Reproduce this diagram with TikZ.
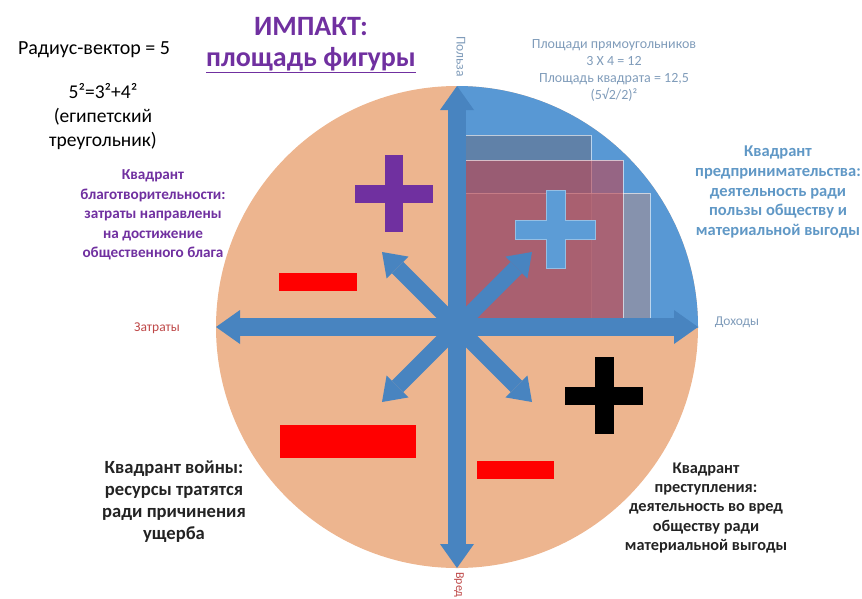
\documentclass[tikz,border=0pt]{standalone}
\usepackage{fontspec}
\setmainfont{Carlito}
\usepackage{tikz}
\usetikzlibrary{arrows.meta}
\definecolor{peach}{RGB}{237,181,143}
\definecolor{quadblue}{RGB}{88,152,212}
\definecolor{arrowblue}{RGB}{72,132,192}
\definecolor{plusblue}{RGB}{92,156,214}
\definecolor{violet}{RGB}{112,48,160}
\definecolor{minusred}{RGB}{255,0,0}
\definecolor{noteblue}{RGB}{128,156,186}
\definecolor{labelblue}{RGB}{96,152,198}
\definecolor{costred}{RGB}{190,72,72}
\definecolor{darktext}{RGB}{35,35,35}
\tikzstyle{axis} = [draw=arrowblue, line width=18pt,
    {Triangle[width=34pt,length=24pt,line width=0pt]}-{Triangle[width=34pt,length=24pt,line width=0pt]}]
\tikzstyle{diag} = [draw=arrowblue, line width=16pt,
    {Triangle[width=31pt,length=22pt,line width=0pt]}-{Triangle[width=31pt,length=22pt,line width=0pt]}]
\tikzstyle{area} = [draw=white, draw opacity=0.6, line width=0.8pt]
\tikzstyle{quad} = [align=center, inner sep=0pt, font=\bfseries]
\tikzstyle{axislabel} = [inner sep=0pt, font=\fontsize{13.5}{15}\selectfont]

\begin{document}
\begin{tikzpicture}[x=1pt, y=-1pt]
    \useasboundingbox (0,0) rectangle (862,598);
    \coordinate (o) at (457,327);

    % Disc and first quadrant
    \fill [peach] (o) circle [radius=241];
    \begin{scope}
        \clip (o) rectangle (720,70);
        \fill [quadblue] (o) circle [radius=241];
    \end{scope}

    % Rectangles 3x4, 4x3 and the square
    \path [area, fill={rgb,255:red,100;green,120;blue,150}, fill opacity=0.7] (o) rectangle (591,135);
    \path [area, fill={rgb,255:red,150;green,145;blue,160}, fill opacity=0.75] (o) rectangle (650,193);
    \path [area, fill={rgb,255:red,192;green,68;blue,80}, fill opacity=0.6] (o) rectangle (623,160);

    % Signs
    \fill [violet] (385,155) rectangle (403,232);
    \fill [violet] (355,185) rectangle (433,203);
    \path [fill=plusblue, draw=white!35!plusblue, line width=1pt]
        (546,190) -- (565,190) -- (565,220) -- (595,220) -- (595,239) -- (565,239)
        -- (565,268) -- (546,268) -- (546,239) -- (515,239) -- (515,220) -- (546,220) -- cycle;
    \fill [black] (595,357) rectangle (614,434);
    \fill [black] (565,387) rectangle (643,405);
    \fill [minusred] (279,273) rectangle (357,291);
    \fill [minusred] (280,425) rectangle (416,458);
    \fill [minusred] (477,461) rectangle (554,479);

    % Axes
    \coordinate (top) at (457,86);
    \coordinate (bottom) at (457,568);
    \coordinate (left) at (216,327);
    \coordinate (right) at (698,327);
    \coordinate (ne) at (532,252);
    \coordinate (nw) at (382,252);
    \coordinate (sw) at (382,402);
    \coordinate (se) at (532,402);
    \path [axis] (bottom) -- (top);
    \path [axis] (left) -- (right);
    \path [diag] (sw) -- (ne);
    \path [diag] (nw) -- (se);

    % Axis labels
    \node [axislabel, text=noteblue, rotate=-90, anchor=west] (benefit) at (461,36) {Польза};
    \node [axislabel, text=costred] (costs) at (157,328) {Затраты};
    \node [axislabel, text=noteblue] (income) at (737,322) {Доходы};
    \node [axislabel, text=costred, rotate=-90, anchor=west, font=\fontsize{12}{14}\selectfont]
        (harm) at (459,572) {Вред};

    % Texts
    \node [inner sep=0pt, font=\fontsize{20}{25}\selectfont] (radius) at (94,50) {Радиус-вектор = 5};
    \node [align=center, inner sep=0pt, font=\fontsize{19.5}{24}\selectfont] (formula) at (103,117)
        {5²=3²+4²\\(египетский\\треугольник)};
    \node [inner sep=0pt, text=violet, font=\fontsize{28}{32}\bfseries] (title) at (311,27) {ИМПАКТ:};
    \node [inner sep=0pt, text=violet, font=\fontsize{28}{32}\bfseries, below of=title, node distance=33pt]
        (subtitle) {\underline{площадь фигуры}};
    \node [align=center, inner sep=0pt, text=noteblue, font=\fontsize{14}{17}\selectfont] (areas) at (614,70)
        {Площади прямоугольников\\3 X 4 = 12\\Площадь квадрата = 12,5\\(5√2/2)²};
    \node [quad, text=labelblue, font=\fontsize{16.5}{19.7}\bfseries] (entrep) at (778,192)
        {Квадрант\\предпринимательства:\\деятельность ради\\пользы обществу и\\материальной выгоды};
    \node [quad, text=violet, font=\fontsize{15.2}{19.5}\bfseries] (charity) at (153,215)
        {Квадрант\\благотворительности:\\затраты направлены\\на достижение\\общественного блага};
    \node [quad, text=darktext, font=\fontsize{18.6}{22}\bfseries] (war) at (174,502)
        {Квадрант войны:\\ресурсы тратятся\\ради причинения\\ущерба};
    \node [quad, text=darktext, font=\fontsize{16.3}{19.3}\bfseries] (crime) at (706,508)
        {Квадрант\\преступления:\\деятельность во вред\\обществу ради\\материальной выгоды};
\end{tikzpicture}
\end{document}
